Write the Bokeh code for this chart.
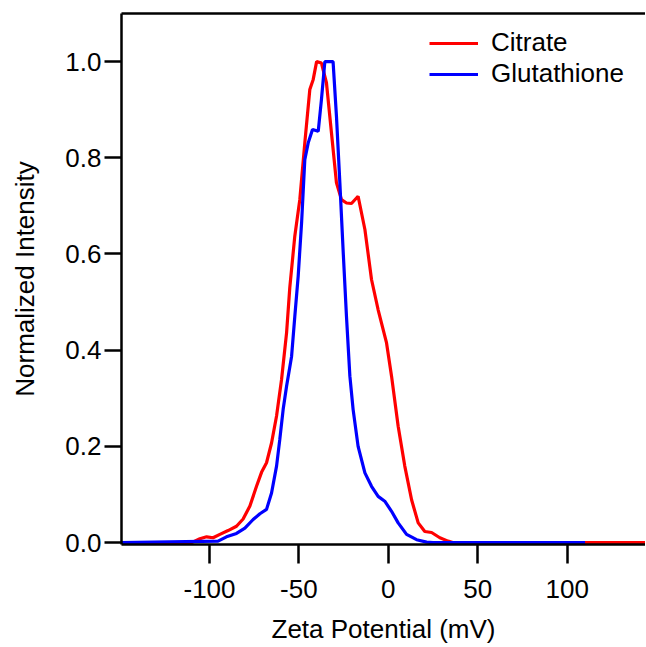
from bokeh.plotting import figure
from bokeh.models import (Range1d, FixedTicker, PrintfTickFormatter, LinearAxis,
                          Legend, LegendItem, ColumnDataSource)
from bokeh.embed import file_html
from bokeh.resources import INLINE

# ---- data ----
citrate_x = [-150, -110, -105.4, -101.6, -98.0, -94.2, -89.6, -84.9, -81.2, -77.4,
             -73.7, -70.9, -68.1, -65.3, -62.5, -59.7, -56.9, -55.1, -52.3, -49.5,
             -46.7, -43.9, -42.0, -40.1, -37.4, -34.6, -31.8, -29.0, -26.2, -23.4,
             -20.6, -16.9, -13.1, -9.4, -5.7, -1.0, 1.8, 5.5, 9.2, 13.0,
             16.7, 20.4, 24.2, 28.8, 33.4, 36.0, 150]
citrate_y = [0.0, 0.0, 0.008, 0.012, 0.010, 0.017, 0.025, 0.034, 0.049, 0.076,
             0.117, 0.146, 0.166, 0.207, 0.263, 0.339, 0.436, 0.530, 0.637, 0.713,
             0.831, 0.942, 0.963, 1.0, 0.997, 0.956, 0.852, 0.748, 0.713, 0.706,
             0.705, 0.720, 0.651, 0.547, 0.484, 0.415, 0.346, 0.242, 0.159, 0.089,
             0.041, 0.023, 0.021, 0.010, 0.003, 0.0, 0.0]

gluta_x = [-150, -95.2, -90.5, -84.9, -80.2, -75.6, -71.8, -68.1, -65.3, -62.5,
           -60.7, -58.8, -56.9, -54.1, -52.3, -50.4, -48.5, -46.7, -44.8, -42.4,
           -39.2, -37.4, -35.5, -30.9, -29.0, -27.1, -25.3, -23.4, -21.5, -19.7,
           -16.9, -13.1, -9.4, -5.7, -2.0, 1.8, 5.5, 10.2, 15.8, 21.4,
           25.0, 110]
gluta_y = [0.0, 0.003, 0.012, 0.019, 0.030, 0.048, 0.060, 0.069, 0.103, 0.159,
           0.214, 0.277, 0.325, 0.387, 0.470, 0.554, 0.665, 0.796, 0.831, 0.859,
           0.855, 0.921, 1.0, 1.0, 0.886, 0.748, 0.609, 0.470, 0.346, 0.277,
           0.200, 0.145, 0.117, 0.096, 0.086, 0.065, 0.041, 0.017, 0.006, 0.001,
           0.0, 0.0]

x_ticks = [-100, -50, 0, 50, 100]
y_ticks = [0.0, 0.2, 0.4, 0.6, 0.8, 1.0]
series_names = ["Citrate", "Glutathione"]
series_colors = ["#FF0000", "#0000FF"]

FONT = "Liberation Sans"
FS = "26px"

p = figure(width=645, height=646,
           x_range=Range1d(-149.2, 143.8), y_range=Range1d(-0.004, 1.1),
           output_backend="svg", toolbar_location=None,
           min_border_left=121, min_border_right=0,
           min_border_top=13, min_border_bottom=102)
p.grid.visible = False
p.outline_line_color = None
p.background_fill_color = "white"
p.border_fill_color = "white"

src_c = ColumnDataSource(dict(x=citrate_x, y=citrate_y))
src_g = ColumnDataSource(dict(x=gluta_x, y=gluta_y))
r_c = p.line("x", "y", source=src_c, line_color=series_colors[0], line_width=3.2)
r_g = p.line("x", "y", source=src_g, line_color=series_colors[1], line_width=3.2)

def style_axis(ax):
    ax.axis_line_width = 2.5
    ax.axis_line_color = "black"
    ax.major_tick_line_width = 2.5
    ax.major_tick_line_color = "black"
    ax.major_tick_in = 0
    ax.minor_tick_line_color = None
    ax.major_label_text_font = FONT
    ax.major_label_text_font_size = FS
    ax.major_label_text_color = "black"
    ax.axis_label_text_font = FONT
    ax.axis_label_text_font_size = FS
    ax.axis_label_text_font_style = "normal"
    ax.axis_label_text_color = "black"

xa = p.xaxis[0]
style_axis(xa)
xa.ticker = FixedTicker(ticks=x_ticks)
xa.formatter = PrintfTickFormatter(format="%d")
xa.major_tick_out = 19
xa.major_label_standoff = 16
xa.axis_label = "Zeta Potential (mV)"
xa.axis_label_standoff = 13

ya = p.yaxis[0]
style_axis(ya)
ya.ticker = FixedTicker(ticks=y_ticks)
ya.formatter = PrintfTickFormatter(format="%.1f")
ya.major_tick_out = 17
ya.major_label_standoff = 3
ya.axis_label = "Normalized Intensity"
ya.axis_label_standoff = 22

top = LinearAxis(ticker=FixedTicker(ticks=[]), major_tick_out=0, major_tick_in=0,
                 minor_tick_out=0, minor_tick_in=0, major_label_text_font_size="0px",
                 major_label_standoff=0, axis_line_width=2.5, axis_line_color="black")
p.add_layout(top, "above")

legend = Legend(items=[LegendItem(label=series_names[0], renderers=[r_c]),
                       LegendItem(label=series_names[1], renderers=[r_g])],
                location=(308, 455), border_line_color=None, background_fill_alpha=0,
                padding=0, margin=0, spacing=0, glyph_width=49, glyph_height=30,
                label_height=30, label_standoff=13,
                label_text_font=FONT, label_text_font_size=FS, label_text_color="black")
p.add_layout(legend)

open("out.html", "w").write(file_html(p, INLINE))
